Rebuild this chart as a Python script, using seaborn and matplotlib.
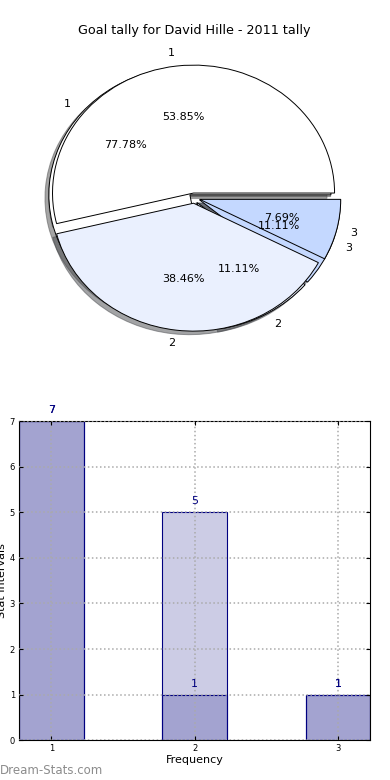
import matplotlib
matplotlib.use("Agg")
import matplotlib.pyplot as plt
import pandas as pd
import seaborn as sns

# -----------------------------
# DATA
# -----------------------------
title = "Goal tally for David Hille - 2011 tally"
labels = ["1", "2", "3"]
tally_a = [7, 5, 1]
tally_b = [7, 1, 1]
positions = [1, 2, 3]

pie_colors = ["#ffffff", "#eaf0fe", "#c4d8ff"]
bar_face = (0.0, 0.0, 0.5, 0.2)

sns.set_style("white")
plt.rcParams["font.family"] = ["DejaVu Sans"]
plt.rcParams["text.color"] = "black"
plt.rcParams["axes.labelcolor"] = "black"
plt.rcParams["xtick.color"] = "black"
plt.rcParams["ytick.color"] = "black"

fig = plt.figure(figsize=(3.9, 7.8), dpi=100)

# -----------------------------
# PIE (two tallies overlaid)
# -----------------------------
ax1 = fig.add_axes([0.046, 0.541, 0.904, 0.410])
wedge_kw = {"linewidth": 0.7, "edgecolor": "black"}
explode = (0.04, 0.04, 0.04)
ax1.pie(tally_b, labels=labels, colors=pie_colors, autopct="%1.2f%%",
        explode=explode, shadow=True, wedgeprops=wedge_kw,
        textprops={"fontsize": 8, "color": "black"})
ax1.pie(tally_a, labels=labels, colors=pie_colors, autopct="%1.2f%%",
        explode=explode, shadow=True, wedgeprops=wedge_kw,
        textprops={"fontsize": 8, "color": "black"})
ax1.set_aspect("auto")
ax1.set_xlim(-1.25, 1.25)
ax1.set_ylim(-1.25, 1.25)
ax1.set_title(title, fontsize=9.2, y=1.0, pad=3, color="black")

# -----------------------------
# BARS
# -----------------------------
ax2 = fig.add_axes([0.049, 0.051, 0.9, 0.409])
df_a = pd.DataFrame({"x": positions, "y": tally_a})
df_b = pd.DataFrame({"x": positions, "y": tally_b})
for d in [df_a, df_b]:
    sns.barplot(data=d, x="x", y="y", native_scale=True, width=0.45,
                errorbar=None, ax=ax2)
for p in ax2.patches:
    p.set_facecolor(bar_face)
    p.set_edgecolor("navy")
    p.set_linewidth(0.8)

for d in [df_a, df_b]:
    for xv, yv in zip(d["x"], d["y"]):
        ax2.text(xv, yv + 0.13, str(yv), ha="center", va="bottom",
                 color="navy", fontsize=8)

ax2.set_xlim(0.775, 3.225)
ax2.set_ylim(0, 7)
ax2.set_xticks(positions)
ax2.set_yticks(range(0, 8))
ax2.tick_params(labelsize=6, direction="in", length=3, pad=3,
                top=True, right=True, bottom=True, left=True)
ax2.grid(True, linestyle=":", color="#aaaaaa", linewidth=1.1)
ax2.set_axisbelow(False)
ax2.set_xlabel("Frequency", fontsize=8, labelpad=1)
ax2.set_ylabel("Stat Intervals", fontsize=8, labelpad=2)
for s in ax2.spines.values():
    s.set_color("black")
    s.set_linewidth(0.8)

fig.text(0.0, 0.004, "Dream-Stats.com", color="#8c8c8c", fontsize=8.5,
         ha="left", va="bottom")

plt.savefig("out.png", dpi=100)
plt.close()
